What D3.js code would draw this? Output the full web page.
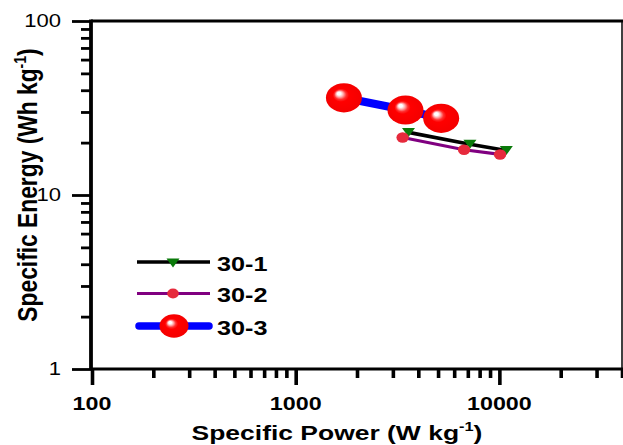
<!DOCTYPE html>
<html><head><meta charset="utf-8">
<script src="https://cdn.jsdelivr.net/npm/d3@7"></script>
<style>html,body{margin:0;padding:0;background:#fff;} svg{display:block}</style>
</head><body>
<svg id="c" width="623" height="445"></svg>
<script>
const seriesNames = ["30-1", "30-2", "30-3"];
const power1 = [3580, 7170, 10820];
const energy1 = [22.9, 19.6, 18.0];
const power2 = [3350, 6710, 10080];
const energy2 = [21.4, 18.2, 17.1];
const power3 = [1725, 3460, 5180];
const energy3 = [36.2, 30.8, 27.6];
const xMajorTicks = [100, 1000, 10000];
const xTickLabels = ["100", "1000", "10000"];
const yMajorTicks = [1, 10, 100];
const yTickLabels = ["1", "10", "100"];

const FONT = "'Liberation Sans', Arial, sans-serif";
const SX = 1.26;
const svg = d3.select("#c");
const x = d3.scaleLog().domain([100, 40000]).range([92, 622]);
const y = d3.scaleLog().domain([1, 100]).range([369, 21]);

const defs = svg.append("defs");
const g = defs.append("radialGradient").attr("id", "ball")
  .attr("cx", "50%").attr("cy", "50%").attr("r", "50%").attr("fx", "35%").attr("fy", "34%");
[[0, "#ffffff"], [0.1, "#ffffff"], [0.2, "#ffb0b0"], [0.33, "#ff3030"], [0.45, "#ff0000"], [1, "#f40000"]]
  .forEach(([o, c]) => g.append("stop").attr("offset", o).attr("stop-color", c));

// minor ticks
const xMinor = [];
for (let d = 100; d <= 10000; d *= 10) for (let m = 2; m <= 9; m++) { if (d * m <= 40000) xMinor.push(d * m); }
const yMinor = [];
for (let d = 1; d <= 10; d *= 10) for (let m = 2; m <= 9; m++) yMinor.push(d * m);

function styleAxis(sel, w) {
  sel.select(".domain").remove();
  sel.selectAll(".tick line").attr("stroke", "#000").attr("stroke-width", w);
  sel.selectAll(".tick text").remove();
}
svg.append("g").attr("transform", "translate(0,369)")
  .call(d3.axisBottom(x).tickValues(xMinor).tickSize(9).tickSizeOuter(0).tickFormat(""))
  .call(s => styleAxis(s, 3.6));
svg.append("g").attr("transform", "translate(0,369)")
  .call(d3.axisBottom(x).tickValues(xMajorTicks).tickSize(16).tickSizeOuter(0).tickFormat(""))
  .call(s => styleAxis(s, 3.6));
svg.append("g").attr("transform", "translate(91,0)")
  .call(d3.axisLeft(y).tickValues(yMinor).tickSize(10).tickSizeOuter(0).tickFormat(""))
  .call(s => styleAxis(s, 2.8));
svg.append("g").attr("transform", "translate(91,0)")
  .call(d3.axisLeft(y).tickValues(yMajorTicks).tickSize(19).tickSizeOuter(0).tickFormat(""))
  .call(s => styleAxis(s, 2.8));

// frame
svg.append("line").attr("x1", 91).attr("x2", 623).attr("y1", 21).attr("y2", 21).attr("stroke", "#000").attr("stroke-width", 3);
svg.append("line").attr("x1", 622).attr("x2", 622).attr("y1", 21).attr("y2", 369).attr("stroke", "#000").attr("stroke-width", 1.5);
svg.append("line").attr("x1", 91).attr("x2", 623).attr("y1", 369).attr("y2", 369).attr("stroke", "#000").attr("stroke-width", 3.2);
svg.append("line").attr("x1", 91).attr("x2", 91).attr("y1", 19.5).attr("y2", 370).attr("stroke", "#000").attr("stroke-width", 3.8);

// tick labels
svg.selectAll("text.xl").data(xMajorTicks).enter().append("text").attr("class", "xl")
  .attr("transform", d => `translate(${x(d)},410) scale(${SX},1)`)
  .attr("text-anchor", "middle").attr("font-family", FONT).attr("font-weight", "bold").attr("font-size", 18.5)
  .text((d, i) => xTickLabels[i]);
svg.selectAll("text.yl").data(yMajorTicks).enter().append("text").attr("class", "yl")
  .attr("transform", d => `translate(61,${y(d) + 6.4}) scale(${SX},1)`)
  .attr("text-anchor", "end").attr("font-family", FONT).attr("font-size", 17.5)
  .text((d, i) => yTickLabels[i]);

// axis titles
const xt = svg.append("text").attr("transform", `translate(337,440) scale(${SX},1)`)
  .attr("text-anchor", "middle").attr("font-family", FONT).attr("font-weight", "bold").attr("font-size", 21);
xt.append("tspan").text("Specific Power (W kg");
xt.append("tspan").attr("font-size", 13).attr("dy", -9).text("-1");
xt.append("tspan").attr("dy", 9).text(")");
const yt = svg.append("text").attr("transform", `translate(37,185) scale(1.2,1) rotate(-90)`)
  .attr("text-anchor", "middle").attr("font-family", FONT).attr("font-weight", "bold").attr("font-size", 22.8);
yt.append("tspan").text("Specific Energy (Wh kg");
yt.append("tspan").attr("font-size", 14).attr("dy", -9.5).text("-1");
yt.append("tspan").attr("dy", 9.5).text(")");

// data
const s1 = power1.map((p, i) => [p, energy1[i]]);
const s2 = power2.map((p, i) => [p, energy2[i]]);
const s3 = power3.map((p, i) => [p, energy3[i]]);
const line = d3.line().x(d => x(d[0])).y(d => y(d[1]));

svg.append("path").datum(s3).attr("d", line).attr("fill", "none").attr("stroke", "#0000ff").attr("stroke-width", 8);
svg.append("path").datum(s2).attr("d", line).attr("fill", "none").attr("stroke", "#800080").attr("stroke-width", 3.2);
svg.append("path").datum(s1).attr("d", line).attr("fill", "none").attr("stroke", "#000").attr("stroke-width", 3.6);

const tri = "M-6.5,-4.5 L6.5,-4.5 L0,4.5 Z";
svg.selectAll("path.t1").data(s1).enter().append("path").attr("class", "t1")
  .attr("transform", d => `translate(${x(d[0])},${y(d[1])})`).attr("d", tri).attr("fill", "#0a7a0a");
svg.selectAll("ellipse.c2").data(s2).enter().append("ellipse").attr("class", "c2")
  .attr("cx", d => x(d[0])).attr("cy", d => y(d[1])).attr("rx", 6.2).attr("ry", 5.2).attr("fill", "#e62a3c");
svg.selectAll("ellipse.b3").data(s3).enter().append("ellipse").attr("class", "b3")
  .attr("cx", d => x(d[0])).attr("cy", d => y(d[1])).attr("rx", 18).attr("ry", 14.6).attr("fill", "url(#ball)");

// legend
const lg = svg.append("g");
const rows = [262, 293.5, 326];
lg.append("line").attr("x1", 137).attr("x2", 210).attr("y1", rows[0]).attr("y2", rows[0]).attr("stroke", "#000").attr("stroke-width", 3.4);
lg.append("path").attr("transform", `translate(173,${rows[0] + 1})`).attr("d", tri).attr("fill", "#0a7a0a");
lg.append("line").attr("x1", 137).attr("x2", 210).attr("y1", rows[1]).attr("y2", rows[1]).attr("stroke", "#800080").attr("stroke-width", 3);
lg.append("ellipse").attr("cx", 173).attr("cy", rows[1]).attr("rx", 5.8).attr("ry", 4.9).attr("fill", "#e62a3c");
lg.append("line").attr("x1", 139).attr("x2", 209).attr("y1", rows[2]).attr("y2", rows[2]).attr("stroke", "#0000ff").attr("stroke-width", 7.5).attr("stroke-linecap", "round");
lg.append("ellipse").attr("cx", 174).attr("cy", rows[2]).attr("rx", 14.5).attr("ry", 11.8).attr("fill", "url(#ball)");
lg.selectAll("text").data(seriesNames).enter().append("text")
  .attr("transform", (d, i) => `translate(217,${rows[i] + 8.5}) scale(1.2,1)`)
  .attr("font-family", FONT).attr("font-weight", "bold").attr("font-size", 21).text(d => d);
</script>
</body></html>
